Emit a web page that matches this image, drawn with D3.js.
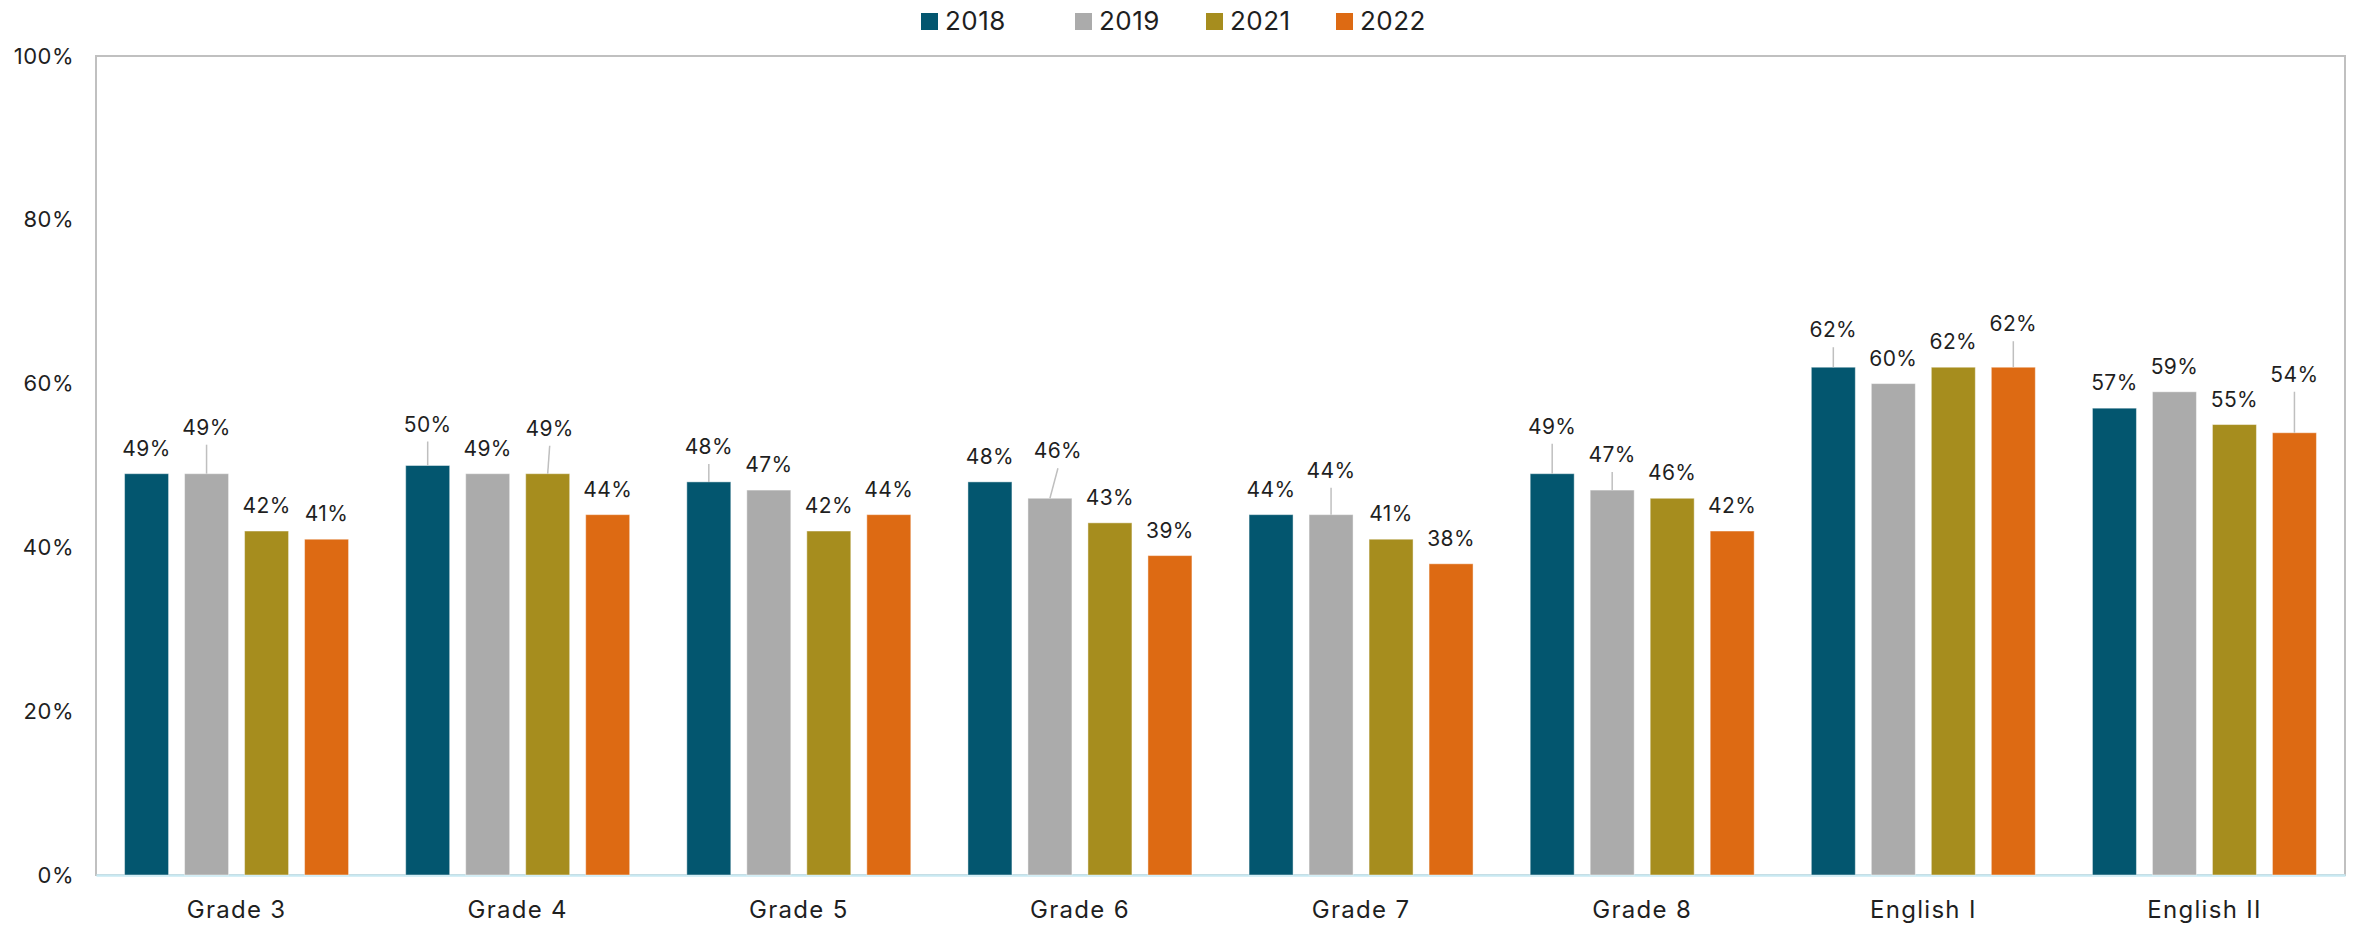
<!DOCTYPE html>
<html>
<head>
<meta charset="utf-8">
<script src="https://cdn.jsdelivr.net/npm/d3@7"></script>
<style>
  body { margin: 0; background: #fff; }
  text { font-family: Inter, "Noto Sans", sans-serif; fill: #1f1f1f; }
</style>
</head>
<body>
<div class="chart"></div>
<script>
// data
var categories = ["Grade 3", "Grade 4", "Grade 5", "Grade 6", "Grade 7", "Grade 8", "English I", "English II"];
var years = ["2018", "2019", "2021", "2022"];
var values2018 = [49, 50, 48, 48, 44, 49, 62, 57];
var values2019 = [49, 49, 47, 46, 44, 47, 60, 59];
var values2021 = [42, 49, 42, 43, 41, 46, 62, 55];
var values2022 = [41, 44, 44, 39, 38, 42, 62, 54];
var yTicks = [0, 20, 40, 60, 80, 100];

var colors = ["#03566f", "#ababab", "#a68d1e", "#dd6a13"];

// label nudges (lift in px, sideways shift in px) for labels pulled off their bars
var labelLift = [
  [[0, 0], [21, 0], [0, 0], [0, 0]],
  [[16, 0], [0, 0], [20, 2], [0, 0]],
  [[10, 0], [0, 0], [0, 0], [0, 0]],
  [[0, 0], [22, 8], [0, 0], [0, 0]],
  [[0, 0], [19, 0], [0, 0], [0, 0]],
  [[22, 0], [10, 0], [0, 0], [0, 0]],
  [[12, 0], [0, 0], [0, 0], [18, 0]],
  [[0, 0], [0, 0], [0, 0], [33, 0]]
];

var svgWidth = 2361;
var svgHeight = 925;

var margin = { top: 56, right: 16, bottom: 50, left: 96 };
var width = svgWidth - margin.left - margin.right;
var height = svgHeight - margin.top - margin.bottom;

var svg = d3.select(".chart")
  .append("svg")
  .attr("width", svgWidth)
  .attr("height", svgHeight);

var chartGroup = svg.append("g")
  .attr("transform", `translate(${margin.left}, ${margin.top})`);

// build rows from the arrays
var series = [values2018, values2019, values2021, values2022];
var rows = categories.map((c, i) => ({
  cat: c,
  vals: series.map((s, j) => ({ year: years[j], v: s[i], j: j, i: i }))
}));

var xScale = d3.scaleBand()
  .domain(categories)
  .range([0, width])
  .paddingInner(0)
  .paddingOuter(0);

var barW = 44;
var barStep = 60;
var groupW = barStep * (years.length - 1) + barW;

var yScale = d3.scaleLinear()
  .domain([0, 100])
  .range([height, 0]);

// frame
chartGroup.append("rect")
  .attr("x", 0)
  .attr("y", 0)
  .attr("width", width)
  .attr("height", height)
  .attr("fill", "none")
  .attr("stroke", "#c0c0c0")
  .attr("stroke-width", 2);

// y axis labels
var leftAxis = d3.axisLeft(yScale)
  .tickValues(yTicks)
  .tickSize(0)
  .tickPadding(22)
  .tickFormat(d => d + "%");

var yAxis = chartGroup.append("g").call(leftAxis);
yAxis.select(".domain").remove();
yAxis.selectAll("text")
  .style("font-size", "22px")
  .style("font-family", "Inter, 'Noto Sans', sans-serif")
  .style("letter-spacing", "0.5px")
  .attr("fill", "#1f1f1f");

// x axis
var bottomAxis = d3.axisBottom(xScale).tickSize(0).tickPadding(26);
var xAxis = chartGroup.append("g")
  .attr("transform", `translate(0, ${height})`)
  .call(bottomAxis);
xAxis.select(".domain")
  .attr("stroke", "#c8e9f2")
  .attr("stroke-width", 2.5);
xAxis.selectAll("text")
  .style("font-size", "24px")
  .style("font-family", "Inter, 'Noto Sans', sans-serif")
  .style("letter-spacing", "1.3px")
  .attr("fill", "#1f1f1f");

// bars
var groups = chartGroup.selectAll(".grp")
  .data(rows)
  .enter()
  .append("g")
  .attr("class", "grp")
  .attr("transform", d => `translate(${xScale(d.cat) + xScale.bandwidth() / 2 - groupW / 2}, 0)`);

groups.selectAll("rect")
  .data(d => d.vals)
  .enter()
  .append("rect")
  .attr("x", d => d.j * barStep)
  .attr("y", d => yScale(d.v))
  .attr("width", barW)
  .attr("height", d => height - yScale(d.v))
  .attr("fill", d => colors[d.j])
  .attr("stroke", "#ffffff")
  .attr("stroke-opacity", 0.45)
  .attr("stroke-width", 1);

// leader lines for labels lifted off the bar
groups.selectAll("line.leader")
  .data(d => d.vals.filter(v => labelLift[v.i][v.j][0] > 0))
  .enter()
  .append("line")
  .attr("class", "leader")
  .attr("x1", d => d.j * barStep + barW / 2 + labelLift[d.i][d.j][1])
  .attr("y1", d => yScale(d.v) - 18 - labelLift[d.i][d.j][0] + 10)
  .attr("x2", d => d.j * barStep + barW / 2)
  .attr("y2", d => yScale(d.v))
  .attr("stroke", "#bfbfbf")
  .attr("stroke-width", 1.5);

// value labels
groups.selectAll("text.val")
  .data(d => d.vals)
  .enter()
  .append("text")
  .attr("class", "val")
  .attr("x", d => d.j * barStep + barW / 2 + labelLift[d.i][d.j][1])
  .attr("y", d => yScale(d.v) - 18 - labelLift[d.i][d.j][0])
  .attr("text-anchor", "middle")
  .style("font-size", "21px")
  .style("letter-spacing", "0.4px")
  .text(d => d.v + "%");

// legend
var legendX = [921, 1075, 1206, 1336];
var legend = svg.append("g");
var legItems = legend.selectAll("g")
  .data(years)
  .enter()
  .append("g")
  .attr("transform", (d, i) => `translate(${legendX[i]}, 13)`);

legItems.append("rect")
  .attr("width", 17)
  .attr("height", 17)
  .attr("fill", (d, i) => colors[i]);

legItems.append("text")
  .attr("x", 24)
  .attr("y", 17)
  .style("font-size", "26px")
  .style("letter-spacing", "0.5px")
  .text(d => d);
</script>
</body>
</html>
